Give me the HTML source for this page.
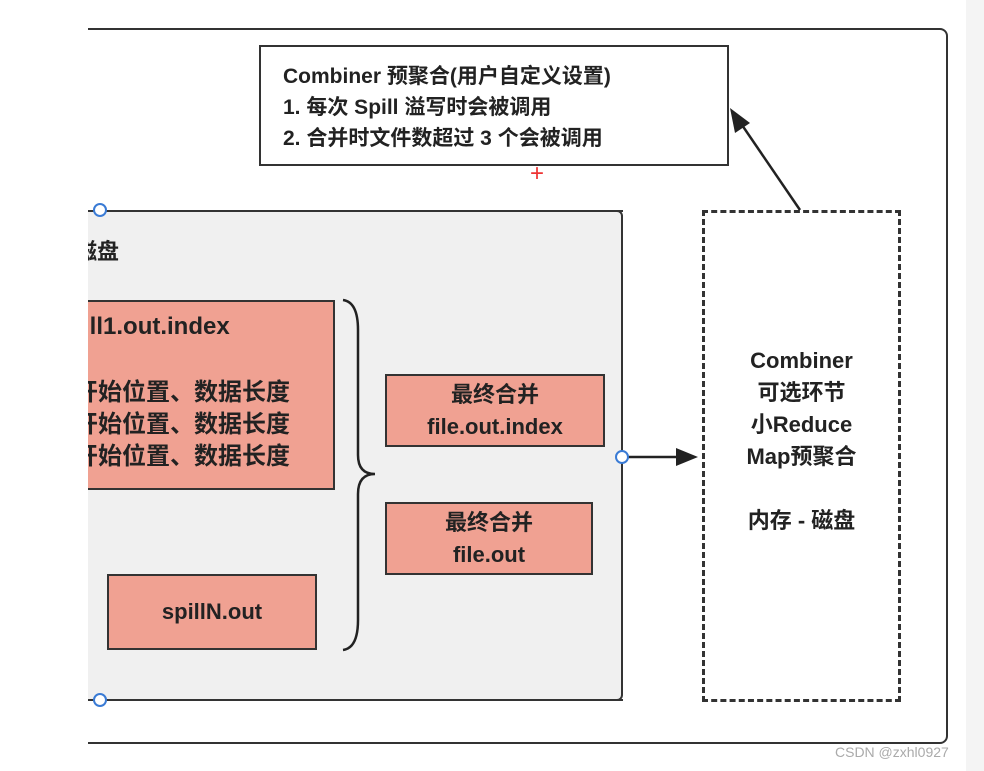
<!DOCTYPE html>
<html><head><meta charset="utf-8"><style>
body{margin:0;width:984px;height:771px;background:#fff;position:relative;overflow:hidden;font-family:"Liberation Sans","Noto Sans CJK SC",sans-serif;font-weight:bold;color:#222}
.a{position:absolute;box-sizing:border-box}
.p{background:#f0a192;border:2px solid #333}
.c{display:flex;flex-direction:column;align-items:center;justify-content:center;text-align:center;font-size:22px;line-height:32px}
</style></head><body>
<div class="a" style="left:966px;top:0;width:18px;height:771px;background:#f4f4f4"></div>
<div class="a" style="left:60px;top:28px;width:888px;height:716px;border:2px solid #333;border-radius:8px"></div>
<div class="a" style="left:0;top:0;width:88px;height:771px;background:#fff"></div>
<div class="a" style="left:259px;top:45px;width:470px;height:121px;border:2px solid #333;background:#fff;padding:14px 0 0 22px;font-size:21px;line-height:31px">Combiner 预聚合(用户自定义设置)<br>1. 每次 Spill 溢写时会被调用<br>2. 合并时文件数超过 3 个会被调用</div>
<div class="a" style="left:530px;top:160px;color:#e33;font-size:24px;font-weight:normal">+</div>
<div class="a" style="left:60px;top:210px;width:563px;height:491px;background:#f0f0f0;border:2px solid #333;border-radius:6px"></div>
<div class="a" style="left:0;top:200px;width:88px;height:520px;background:#fff"></div>
<div class="a" style="left:88px;top:210px;width:535px;height:2px;background:#333"></div>
<div class="a" style="left:88px;top:699px;width:535px;height:2px;background:#333"></div>
<div class="a" style="left:88px;top:234px;width:50px;height:32px;overflow:hidden;font-size:22px"><span style="position:absolute;left:-13px;top:0">磁盘</span></div>
<div class="a p" style="left:88px;top:300px;width:247px;height:190px;border-left:none"></div>
<div class="a" style="left:88px;top:300px;width:245px;height:190px;overflow:hidden;font-size:24px">
<div style="position:absolute;left:-33px;top:13px">spill1.out.index</div>
<div style="position:absolute;left:-14px;top:77px;line-height:32px">开始位置、数据长度<br>开始位置、数据长度<br>开始位置、数据长度</div>
</div>
<div class="a p c" style="left:107px;top:574px;width:210px;height:76px">spillN.out</div>
<div class="a p c" style="left:385px;top:374px;width:220px;height:73px">最终合并<br>file.out.index</div>
<div class="a p c" style="left:385px;top:502px;width:208px;height:73px">最终合并<br>file.out</div>
<div class="a c" style="left:702px;top:210px;width:199px;height:492px;border:3px dashed #333;justify-content:flex-start;padding-top:132px;line-height:32px">Combiner<br>可选环节<br>小Reduce<br>Map预聚合<br><br>内存 - 磁盘</div>
<svg class="a" style="left:0;top:0" width="984" height="771">
<path d="M343 300 Q358 302 358 330 L358 455 Q358 474 375 474 Q358 474 358 494 L358 620 Q358 648 343 650" fill="none" stroke="#222" stroke-width="2.5"/>
<line x1="623" y1="457" x2="680" y2="457" stroke="#222" stroke-width="2.5"/>
<polygon points="698,457 676,448 676,466" fill="#222"/>
<line x1="800" y1="210" x2="742" y2="125" stroke="#222" stroke-width="2.5"/>
<polygon points="730,108 735,133 750,123" fill="#222"/>
<circle cx="100" cy="210" r="6" fill="#fff" stroke="#3a7bd5" stroke-width="2"/>
<circle cx="100" cy="700" r="6" fill="#fff" stroke="#3a7bd5" stroke-width="2"/>
<circle cx="622" cy="457" r="6" fill="#fff" stroke="#3a7bd5" stroke-width="2"/>
</svg>
<div class="a" style="left:835px;top:744px;font-size:14px;font-weight:normal;color:#aaa">CSDN @zxhl0927</div>
</body></html>
